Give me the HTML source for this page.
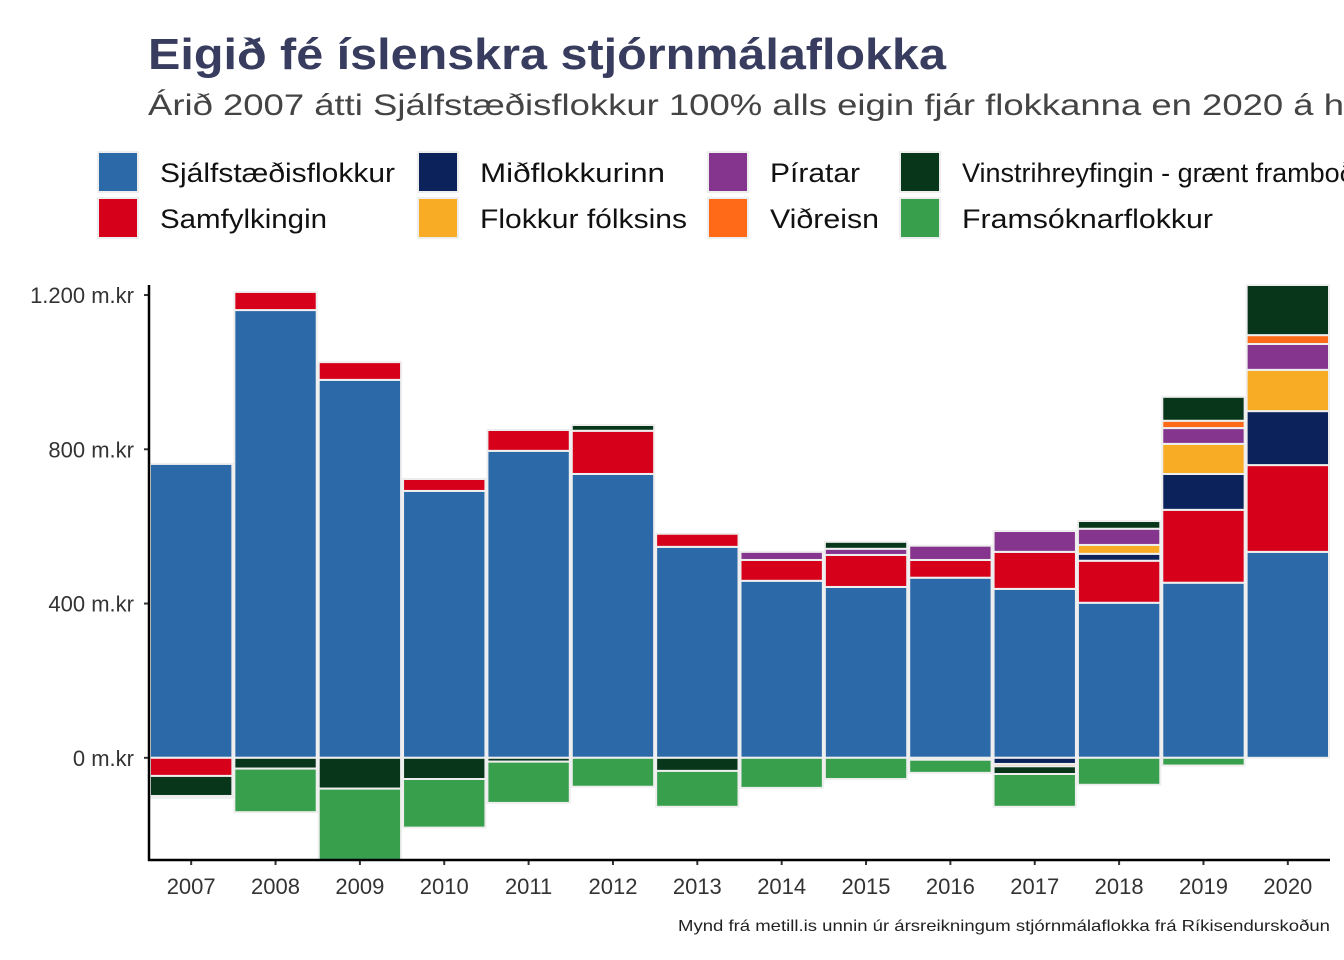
<!DOCTYPE html>
<html><head><meta charset="utf-8"><style>
html,body{margin:0;padding:0;background:#fff;width:1344px;height:960px;overflow:hidden}
svg{display:block;font-family:"Liberation Sans",sans-serif}
</style></head><body>
<svg id="chart" width="1344" height="960" viewBox="0 0 1344 960">
<text x="148" y="69" font-size="44" font-weight="bold" fill="#383c5e" textLength="798" lengthAdjust="spacingAndGlyphs">Eigið fé íslenskra stjórnmálaflokka</text>
<text x="148" y="115" font-size="30" fill="#444" textLength="1196" lengthAdjust="spacingAndGlyphs">Árið 2007 átti Sjálfstæðisflokkur 100% alls eigin fjár flokkanna en 2020 á h</text>
<g id="legend"></g>
<g id="plot"></g>
<text x="1330" y="931" font-size="16" fill="#222" text-anchor="end" textLength="652" lengthAdjust="spacingAndGlyphs">Mynd frá metill.is unnin úr ársreikningum stjórnmálaflokka frá Ríkisendurskoðun</text>
</svg>
<script>
const years = [2007,2008,2009,2010,2011,2012,2013,2014,2015,2016,2017,2018,2019,2020];
const parties = ["Sjálfstæðisflokkur","Samfylkingin","Miðflokkurinn","Flokkur fólksins","Píratar","Viðreisn","Vinstrihreyfingin - grænt framboð","Framsóknarflokkur"];
const colors = ["#2c69a8","#d7001b","#0c225b","#f8ab24","#86358f","#fe6a17","#07361a","#389f4d"];
const sjalf = [762,1161,980,692,796,736,547,459,443,467,438,402,454,534];
const samf  = [-47,47,46,31,54,112,34,54,83,46,96,109,189,225];
const mid   = [0,0,0,0,0,0,0,0,0,0,-16,18,93,140];
const flf   = [0,0,0,0,0,0,0,0,0,0,0,23,78,107];
const pir   = [0,0,0,0,0,0,0,21,16,37,54,42,41,67];
const vidr  = [0,0,0,0,0,0,0,0,0,-5,-6,0,19,23];
const vg    = [-52,-28,-80,-55,-10,15,-34,0,18,0,-20,20,62,130];
const frams = [-5,-113,-200,-126,-107,-75,-93,-78,-55,-34,-85,-70,-20,0];
const series = [sjalf,samf,mid,flf,pir,vidr,vg,frams];
const yTicks = [0,400,800,1200];
const yTickLabels = ["0 m.kr","400 m.kr","800 m.kr","1.200 m.kr"];

const NS="http://www.w3.org/2000/svg";
const X0=149, X1=1330, Y0=860, Y1=285, VMIN=-265, VMAX=1226;
const bw=(X1-X0)/years.length;
const xs=i=>X0+i*bw;
const ys=v=>Y0-(v-VMIN)/(VMAX-VMIN)*(Y0-Y1);
function mk(tag,attrs,parent){const e=document.createElementNS(NS,tag);for(const k in attrs)e.setAttribute(k,attrs[k]);parent.appendChild(e);return e;}
const plot=document.getElementById('plot');
const clip=mk('clipPath',{id:'pc'},mk('defs',{},plot));
mk('rect',{x:X0,y:Y1-10,width:X1-X0+5,height:Y0-Y1+10},clip);
const bars=mk('g',{'clip-path':'url(#pc)'},plot);
years.forEach((yr,i)=>{
  let pos=0,neg=0;
  series.forEach((s,k)=>{
    const v=s[i]; if(!v) return;
    let a,b;
    if(v>0){a=pos;b=pos+v;pos=b;}else{a=neg;b=neg+v;neg=b;}
    const r=mk('rect',{x:xs(i)+1,y:ys(Math.max(a,b)),width:bw-2,height:Math.abs(ys(a)-ys(b)),fill:colors[k],stroke:'#eeeeee','stroke-width':2},bars);
    
    
  });
  const t=mk('text',{x:xs(i)+bw/2,y:894,'font-size':22,fill:'#333','text-anchor':'middle'},plot);
  t.textContent=yr;
  
  
  mk('line',{x1:xs(i)+bw/2,x2:xs(i)+bw/2,y1:Y0,y2:Y0+5,stroke:'#333','stroke-width':2},plot);
});
yTicks.forEach((v,j)=>{
  mk('line',{x1:X0-5,x2:X0,y1:ys(v),y2:ys(v),stroke:'#333','stroke-width':2},plot);
  const t=mk('text',{x:134,y:ys(v)+8,'font-size':22,fill:'#333','text-anchor':'end'},plot);
  t.textContent=yTickLabels[j];
  
  
});
mk('line',{x1:X0,x2:X0,y1:Y1,y2:Y0+1,stroke:'#000','stroke-width':2.5},plot);
mk('line',{x1:X0-1,x2:X1,y1:Y0,y2:Y0,stroke:'#000','stroke-width':2.5},plot);

const leg=document.getElementById('legend');
const cols=[[98,160],[418,480],[708,770],[900,962]];
const lens=[235,167,185,207,90,109,0,251];
const order=[0,2,4,6,1,3,5,7];
order.forEach((k,idx)=>{
  const c=idx%4,r=Math.floor(idx/4);
  const y=152+r*46;
  const g=mk('g',{},leg);
  
  
  mk('rect',{x:cols[c][0],y:y,width:40,height:40,fill:colors[k],stroke:'#eeeeee','stroke-width':2},g);
  const at={x:cols[c][1],y:y+30,'font-size':27,fill:'#111'};
  if(lens[k]){at.textLength=lens[k];at.lengthAdjust='spacingAndGlyphs';}
  const t=mk('text',at,g);
  t.textContent=parties[k];
});
</script>
</body></html>
